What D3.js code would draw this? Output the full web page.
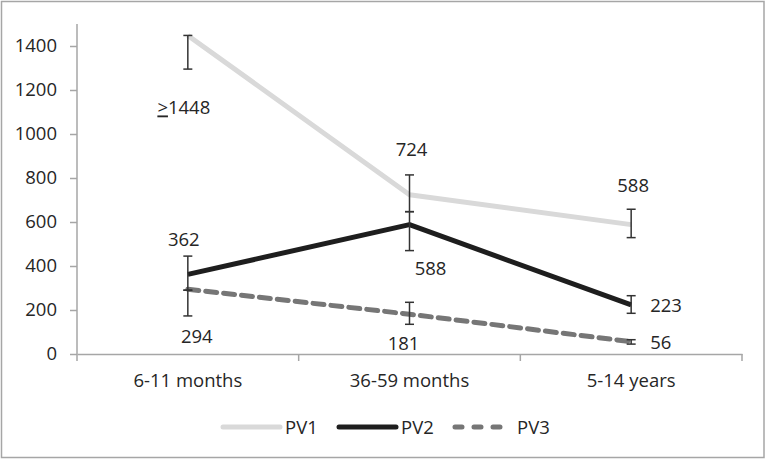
<!DOCTYPE html>
<html>
<head>
<meta charset="utf-8">
<script src="https://cdn.jsdelivr.net/npm/d3@7"></script>
<style>
  html, body { margin: 0; padding: 0; background: #fff; }
  svg { display: block; }
  text { font-family: "Open Sans", "Noto Sans", sans-serif; fill: #262626; }
</style>
</head>
<body>
<svg id="chart" width="766" height="460"></svg>
<script>
// ---- data ----
const categories = ["6-11 months", "36-59 months", "5-14 years"];
const seriesNames = ["PV1", "PV2", "PV3"];
const pv1 = [1448, 724, 588];
const pv2 = [362, 588, 223];
const pv3 = [294, 181, 56];
const pv1Low = [1295, 647, 529];
const pv1High = [1448, 814, 658];
const pv2Low = [290, 470, 185];
const pv2High = [445, 647, 265];
const pv3Low = [173, 135, 45];
const pv3High = [290, 235, 65];
const pv1Labels = ["1448", "724", "588"];
const pv2Labels = ["362", "588", "223"];
const pv3Labels = ["294", "181", "56"];
const yTicks = [0, 200, 400, 600, 800, 1000, 1200, 1400];

// ---- layout ----
const W = 766, H = 460;
const FS = "18.5px";
const plot = { left: 77, right: 742, top: 24, bottom: 354 };
const svg = d3.select("#chart");

// outer border
svg.append("rect").attr("x", 1.5).attr("y", 1.5).attr("width", W - 3.5).attr("height", H - 4)
  .attr("fill", "#fff").attr("stroke", "#a6a6a6").attr("stroke-width", 1.5);

const x = d3.scaleBand().domain(categories).range([plot.left, plot.right]).paddingInner(0).paddingOuter(0);
const y = d3.scaleLinear().domain([0, 1500]).range([plot.bottom, plot.top]);
const cx = c => x(c) + x.bandwidth() / 2;

// y axis
const yAxis = d3.axisLeft(y).tickValues(yTicks).tickSize(7).tickPadding(13).tickFormat(d3.format("d"));
const gy = svg.append("g").attr("transform", `translate(${plot.left},0)`).call(yAxis);
gy.select(".domain").attr("stroke", "#a6a6a6").attr("stroke-width", 1.5).attr("d", `M-0,${plot.top}V${plot.bottom}`);
gy.selectAll(".tick line").attr("stroke", "#a6a6a6").attr("stroke-width", 1.5);
gy.selectAll(".tick text").style("font-size", FS).style("font-family", "'Open Sans', sans-serif").attr("fill", "#262626");

// x axis
const xAxis = d3.axisBottom(x).tickSize(0).tickPadding(20);
const gx = svg.append("g").attr("transform", `translate(0,${plot.bottom})`).call(xAxis);
gx.select(".domain").attr("stroke", "#a6a6a6").attr("stroke-width", 1.5);
gx.selectAll(".tick text").style("font-size", FS).style("font-family", "'Open Sans', sans-serif").attr("fill", "#262626");
// category boundary ticks
const bounds = categories.map(c => x(c)).concat([x(categories[categories.length - 1]) + x.bandwidth()]);
gx.selectAll("line.bound").data(bounds).enter().append("line").attr("class", "bound")
  .attr("x1", d => d).attr("x2", d => d).attr("y1", 0).attr("y2", 7)
  .attr("stroke", "#a6a6a6").attr("stroke-width", 1.5);

// ---- series ----
const series = [
  { name: "PV1", values: pv1, low: pv1Low, high: pv1High, labels: pv1Labels, color: "#d9d9d9", dash: null },
  { name: "PV2", values: pv2, low: pv2Low, high: pv2High, labels: pv2Labels, color: "#1e1e1e", dash: null },
  { name: "PV3", values: pv3, low: pv3Low, high: pv3High, labels: pv3Labels, color: "#767676", dash: "11,7" }
];

const line = d3.line().x((d, i) => cx(categories[i])).y(d => y(d));

series.forEach(s => {
  svg.append("path").datum(s.values).attr("d", line)
    .attr("fill", "none").attr("stroke", s.color).attr("stroke-width", 5)
    .attr("stroke-dasharray", s.dash).attr("stroke-linejoin", "round")
    .attr("stroke-linecap", s.dash ? "round" : "butt");
});

// error bars
series.forEach(s => {
  const g = svg.append("g");
  s.values.forEach((v, i) => {
    const px = cx(categories[i]);
    g.append("line").attr("x1", px).attr("x2", px).attr("y1", y(s.low[i])).attr("y2", y(s.high[i]))
      .attr("stroke", "#333").attr("stroke-width", 1.5);
    [s.low[i], s.high[i]].forEach(b => {
      g.append("line").attr("x1", px - 4.5).attr("x2", px + 4.5).attr("y1", y(b)).attr("y2", y(b))
        .attr("stroke", "#333").attr("stroke-width", 1.5);
    });
  });
});

// data labels: placement (dx from point, dy from point to baseline, anchor)
const labelPlacement = {
  PV1: [{ dx: -4, dy: 79, anchor: "middle" }, { dx: 2, dy: -39, anchor: "middle" }, { dx: 2, dy: -33, anchor: "middle" }],
  PV2: [{ dx: -4, dy: -28, anchor: "middle" }, { dx: 21, dy: 50, anchor: "middle" }, { dx: 19, dy: 7, anchor: "start" }],
  PV3: [{ dx: 9, dy: 54, anchor: "middle" }, { dx: -6, dy: 36, anchor: "middle" }, { dx: 19, dy: 7, anchor: "start" }]
};
series.forEach(s => {
  s.values.forEach((v, i) => {
    const p = labelPlacement[s.name][i];
    const t = svg.append("text")
      .attr("x", cx(categories[i]) + p.dx).attr("y", y(v) + p.dy)
      .attr("text-anchor", p.anchor).style("font-size", FS);
    if (s.name === "PV1" && i === 0) {
      t.append("tspan").style("text-decoration", "underline").text(">");
      t.append("tspan").text(s.labels[i]);
    } else {
      t.text(s.labels[i]);
    }
  });
});

// ---- legend ----
const legend = svg.append("g");
const legendX = d3.scalePoint().domain(seriesNames).range([223, 455]);
series.forEach(s => {
  const lx = legendX(s.name);
  const g = legend.append("g").attr("transform", `translate(${lx},427)`);
  const len = s.name === "PV3" ? 50 : 57;
  g.append("line").attr("x1", 0).attr("x2", len).attr("y1", 0).attr("y2", 0)
    .attr("stroke", s.color).attr("stroke-width", 5)
    .attr("stroke-dasharray", s.dash ? "7,12" : null)
    .attr("stroke-linecap", "round");
  g.append("text").attr("x", 62).attr("y", 6.5).style("font-size", FS).text(s.name);
});
</script>
</body>
</html>
